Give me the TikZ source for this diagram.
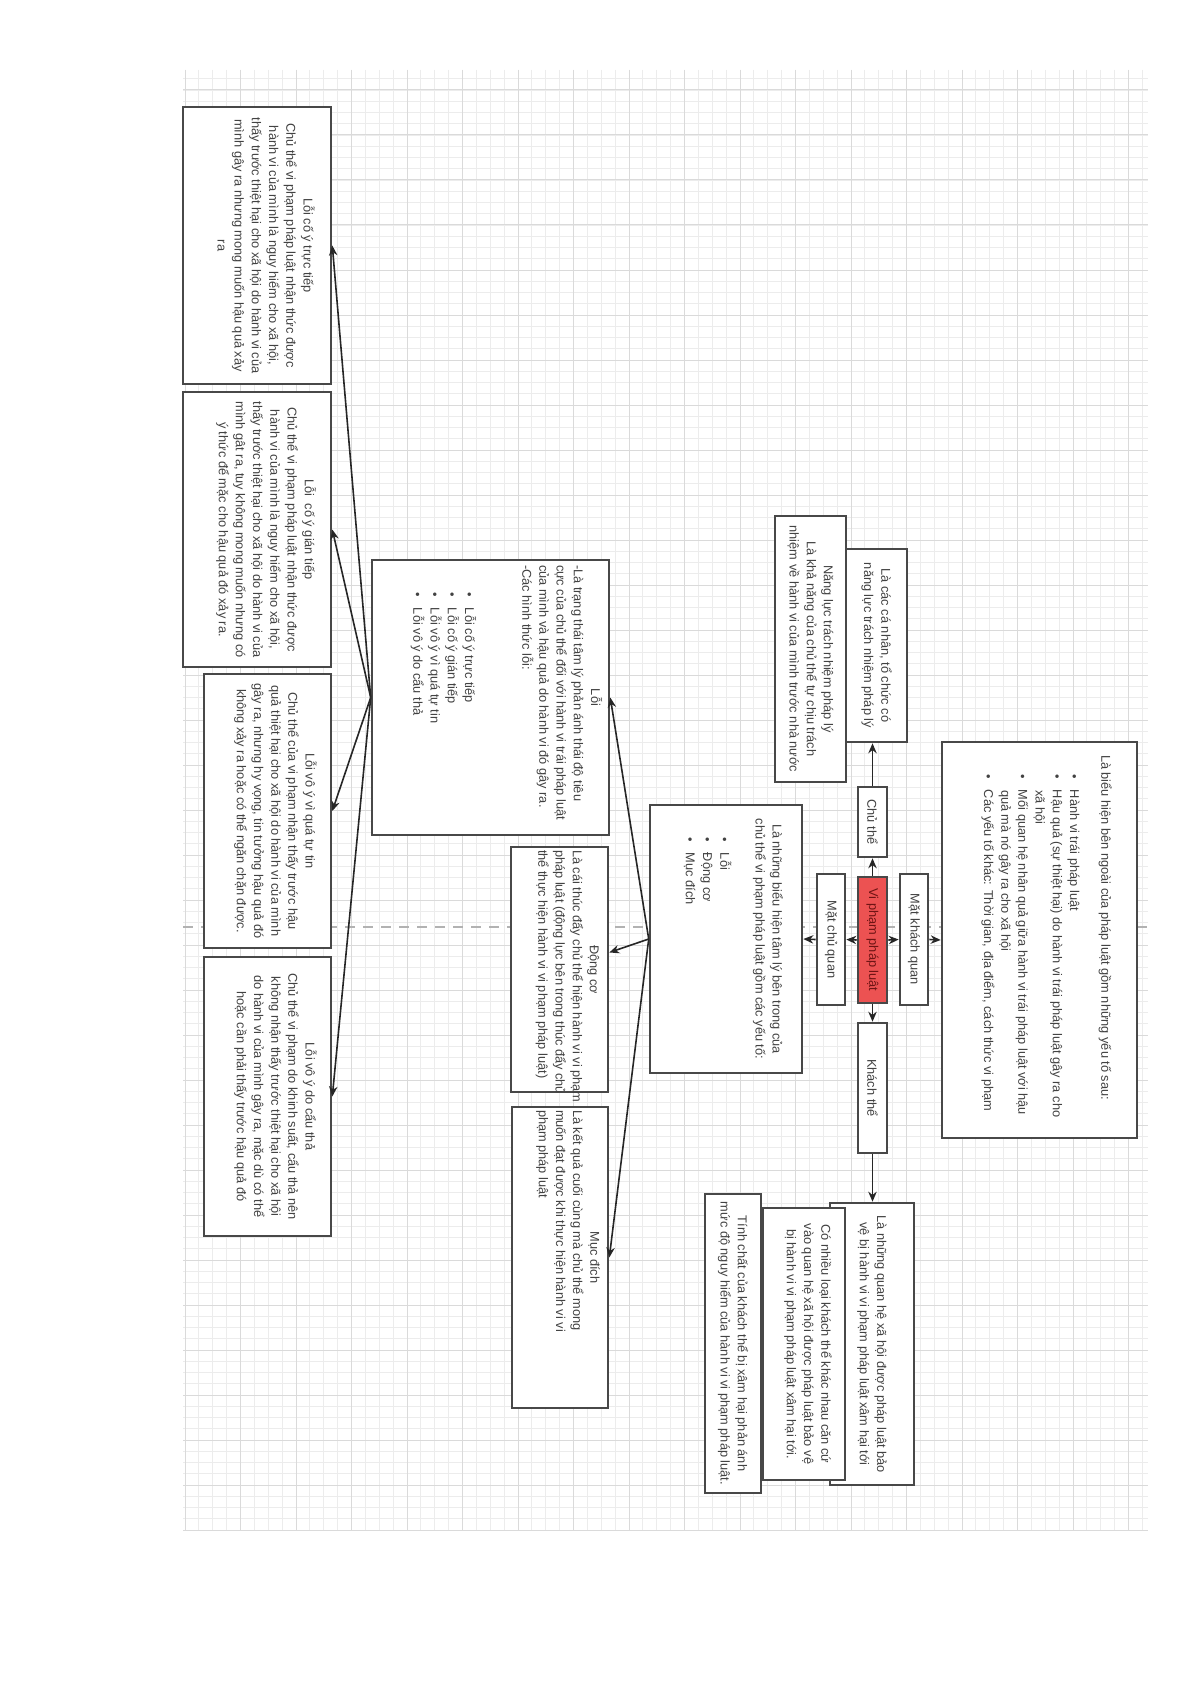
\documentclass[tikz,border=0pt]{standalone}
\usepackage{fontspec}
\setmainfont{Liberation Sans}
\usetikzlibrary{arrows.meta}
\definecolor{gridmin}{RGB}{236,236,236}
\definecolor{gridmaj}{RGB}{218,218,218}
\definecolor{boxc}{RGB}{72,72,72}
\definecolor{txtc}{RGB}{66,66,66}
\definecolor{redf}{RGB}{236,82,82}
\definecolor{redt}{RGB}{110,20,20}
\newdimen\pu \pu=0.5pt
\newcommand\CL[1]{\makebox[\linewidth][c]{#1}\par}
\newcommand\LL[2][5]{\makebox[\linewidth][l]{\hspace*{#1\pu}#2}\par}
\newcommand\BL[1]{\makebox[\linewidth][l]{\hspace*{32\pu}\makebox[16\pu][l]{\textbullet}#1}\par}
\newcommand\BC[1]{\makebox[\linewidth][l]{\hspace*{48\pu}#1}\par}
\newcommand\bx[4][0]{\parbox[c][#3\pu][c]{#2\pu}{\parskip=0pt\parindent=0pt #4\vspace*{#1\pu}}}
\tikzset{
  bx/.style={draw=boxc, line width=1.3pt, fill=white, rotate=-90, inner sep=0pt, text=txtc, font=\fontsize{6.4}{8.6}\selectfont},
  conn/.style={draw=black!85, line width=0.8pt, -{Stealth[length=5pt,width=4.2pt]}},
  gmin/.style={draw=gridmin, line width=0.4pt},
  gmaj/.style={draw=gridmaj, line width=0.5pt},
  pagebreak/.style={draw=gray!60, line width=1.1pt, dash pattern=on 5pt off 4pt}
}
\begin{document}
\begin{tikzpicture}[x=0.5pt,y=-0.5pt]
\useasboundingbox (0,0) rectangle (1192,1685);
\fill[white] (0,0) rectangle (1192,1685);
% grid
\foreach \i in {0,...,69} \draw[gmin] ({185+13.875*\i},70) -- ({185+13.875*\i},1530);
\foreach \j in {0,...,129} \draw[gmin] (183,{1530-11.25*\j}) -- (1148,{1530-11.25*\j});
\foreach \i in {0,...,17} \draw[gmaj] ({185+55.5*\i},70) -- ({185+55.5*\i},1530);
\foreach \j in {0,...,32} \draw[gmaj] (183,{1530-45*\j}) -- (1148,{1530-45*\j});
\coordinate (pbl) at (183,927);
\coordinate (pbr) at (1148,927);
\draw[pagebreak] (pbl) -- (pbr);

% left column
\node[bx] (b1) at (257,245.5) {\bx[18]{277}{148}{%
\CL{Lỗi cố ý trực tiếp}
\CL{Chủ thể vi phạm pháp luật nhận thức được}
\CL{hành vi của mình là nguy hiểm cho xã hội,}
\CL{thấy trước thiệt hại cho xã hội do hành vi của}
\CL{mình gây ra nhưng mong muốn hậu quả xảy}
\CL{ra}}};
\node[bx] (b2) at (257,529.5) {\bx[18]{275}{148}{%
\CL{Lỗi\ \ cố ý gián tiếp}
\CL{Chủ thể vi phạm pháp luật nhận thức được}
\CL{hành vi của mình là nguy hiểm cho xã hội,}
\CL{thấy trước thiệt hại cho xã hội do hành vi của}
\CL{mình gât ra, tuy không mong muốn nhưng có}
\CL{ý thức để mặc cho hậu quả đó xảy ra.}}};
\node[bx] (b3) at (267.5,811) {\bx[16]{274}{127}{%
\CL{Lỗi vô ý vì quá tự tin}
\CL{Chủ thể của vi phạm nhận thấy trước hậu}
\CL{quả thiệt hại cho xã hội do hành vi của mình}
\CL{gây ra, nhưng hy vọng, tin tưởng hậu quả đó}
\CL{không xảy ra hoặc có thể ngăn chặn được.}}};
\node[bx] (b4) at (267.5,1096.5) {\bx[16]{279}{127}{%
\CL{Lỗi vô ý do cẩu thả}
\CL{Chủ thể vi phạm do khinh suất, cẩu thả nên}
\CL{không nhận thấy trước thiệt hại cho xã hội}
\CL{do hành vi của mình gây ra, mặc dù có thể}
\CL{hoặc cần phải thấy trước hậu quả đó}}};

% Loi
\node[bx] (loi) at (490.5,697.5) {\bx[32]{275}{237}{%
\CL{Lỗi}
\LL{-Là trạng thái tâm lý phản ánh thái độ tiêu}
\LL{cực của chủ thể đối với hành vi trái pháp luật}
\LL{của mình và hậu quả do hành vi đó gây ra.}
\LL{-Các hình thức lỗi:}
\vspace{40\pu}
\BL{Lỗi cố ý trực tiếp}
\BL{Lỗi cố ý gián tiếp}
\BL{Lỗi vô ý vì quá tự tin}
\BL{Lỗi vô ý do cẩu thả}}};

\node[bx] (dc) at (559.5,969.5) {\bx[16]{245}{97}{%
\CL{Động cơ}
\LL[3]{Là cái thúc đẩy chủ thể hiện hành vi vi phạm}
\LL[3]{pháp luật (động lực bên trong thúc đẩy chủ}
\LL[3]{thể thực hiện hành vi vi phạm pháp luật)}}};
\node[bx] (md) at (560,1257.5) {\bx[16]{301}{96}{%
\CL{Mục đích}
\LL[3]{Là kết quả cuối cùng mà chủ thể mong}
\LL[3]{muốn đạt được khi thực hiện hành vi vi}
\LL[3]{phạm pháp luật}}};

\node[bx] (mid) at (726,939) {\bx[15]{268}{152}{%
\CL{Là những biểu hiện tâm lý bên trong của}
\CL{chủ thể vi phạm pháp luật gồm các yếu tố:}
\vspace{18\pu}
\BL{Lỗi}
\BL{Động cơ}
\BL{Mục đích}}};

% centre
\node[bx] (mcq) at (831,939.5) {\bx{131}{28}{\CL{Mặt chủ quan}}};
\node[bx, fill=redf, text=redt] (vp) at (872.5,940) {\bx{126}{29}{\CL{Vi phạm pháp luật}}};
\node[bx] (mkq) at (914,939.5) {\bx{131}{28}{\CL{Mặt khách quan}}};
\node[bx] (ct) at (872.5,822) {\bx{70}{29}{\CL{Chủ thể}}};
\node[bx] (kt) at (872.5,1088) {\bx{130}{29}{\CL{Khách thể}}};

% chu the
\node[bx] (nl) at (810.5,649) {\bx{266}{71}{%
\CL{Năng lực trách nhiệm pháp lý}
\CL{Là khả năng của chủ thể tự chịu trách}
\CL{nhiệm về hành vi của mình trước nhà nước}}};
\node[bx] (cn) at (876.5,645.5) {\bx{193}{61}{%
\CL{Là các cá nhân, tổ chức có}
\CL{năng lực trách nhiệm pháp lý}}};

% mat khach quan
\node[bx] (big) at (1039.5,940) {\bx[14]{396}{195}{%
\LL[13]{Là biểu hiện bên ngoài của pháp luật gồm những yếu tố sau:}
\vspace{14\pu}
\BL{Hành vi trái pháp luật}
\BL{Hậu quả (sự thiệt hại) do hành vi trái pháp luật gây ra cho}
\BC{xã hội}
\BL{Mối quan hệ nhân quả giữa hành vi trái pháp luật với hậu}
\BC{quả mà nó gây ra cho xã hội}
\BL{Các yếu tố khác: Thời gian, địa điểm, cách thức vi phạm}}};

% khach the
\node[bx] (kt1) at (872,1344) {\bx{282}{84}{%
\CL{Là những quan hệ xã hội được pháp luật bảo}
\CL{vệ bị hành vi vi phạm pháp luật xâm hại tới}}};
\node[bx] (kt2) at (804,1344) {\bx[8]{272}{82}{%
\CL{Có nhiều loại khách thể khác nhau căn cứ}
\CL{vào quan hệ xã hội được pháp luật bảo vệ}
\CL{bị hành vi vi phạm pháp luật xâm hại tới.}}};
\node[bx] (kt3) at (733,1343.5) {\bx{299}{56}{%
\CL{Tính chất của khách thể bị xâm hại phản ánh}
\CL{mức độ nguy hiểm của hành vi vi phạm pháp luật.}}};

% connectors
\draw[conn] (vp.west) -- (ct.east);
\draw[conn] (ct.west) -- (ct.west |- cn.east);
\draw[conn] (vp.east) -- (kt.west);
\draw[conn] (kt.east) -- (kt.east |- kt1.west);
\draw[conn] (vp.south) -- (mcq.north);
\draw[conn] (mcq.south) -- (mid.north);
\draw[conn] (vp.north) -- (mkq.south);
\draw[conn] (mkq.north) -- (big.south);
\draw[conn] (mid.south) -- (loi.north);
\draw[conn] (mid.south) -- (dc);
\draw[conn] (mid.south) -- (md.north);
\draw[conn] (loi.south) -- (b1.north);
\draw[conn] (loi.south) -- (b2.north);
\draw[conn] (loi.south) -- (b3.north);
\draw[conn] (loi.south) -- (b4.north);
\end{tikzpicture}
\end{document}
